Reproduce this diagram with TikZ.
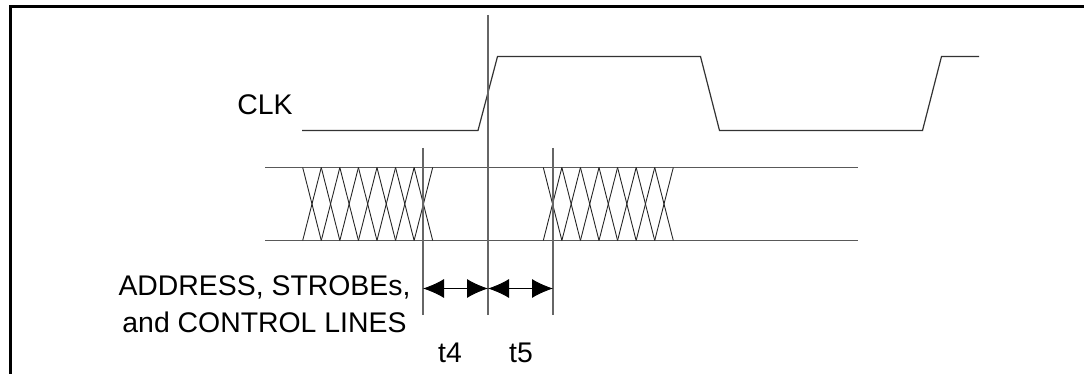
\documentclass[tikz,border=0pt]{standalone}
\usepackage{fontspec}
\setmainfont{Liberation Sans}
\usetikzlibrary{arrows.meta}

\begin{document}
\begin{tikzpicture}[x=1pt,y=-1pt,
  wave/.style={line width=1.2pt,draw=black!80},
  marker/.style={line width=1.1pt,draw=black!60},
  busline/.style={line width=1.3pt,draw=black!65},
  hatch/.style={line width=0.9pt,draw=black!85},
  timing/.style={line width=0.9pt,{Latex[length=21pt,width=19pt]}-{Latex[length=21pt,width=19pt]}},
  lbl/.style={font=\fontsize{28.4}{37}\selectfont,inner sep=0pt,anchor=base}]
  \useasboundingbox (0,0) rectangle (1084,374);
  \draw[line width=2.5pt] (10.5,374) -- (10.5,6.5) -- (1084,6.5);
  % clock
  \draw[wave] (302,130.5) -- (478,130.5) -- (497.5,56.5) -- (700.5,56.5) -- (719.5,130.5)
    -- (922.5,130.5) -- (941.5,56.5) -- (979,56.5);
  \node[lbl] (clk) at (265,115) {CLK};
  % bus
  \draw[busline] (265,167.5) -- (858,167.5);
  \draw[busline] (265,240.5) -- (858,240.5);
  \foreach \s in {302.7,543.3}
    \foreach \i in {0,...,6} {
      \draw[hatch] (\s+\i*18.57,167.5) -- (\s+\i*18.57+18.57,240.5);
      \draw[hatch] (\s+\i*18.57+18.57,167.5) -- (\s+\i*18.57,240.5);
    }
  % markers
  \coordinate (m4) at (423,288.5);
  \coordinate (m0) at (488,288.5);
  \coordinate (m5) at (553,288.5);
  \draw[marker] (423,148) -- (423,315);
  \draw[marker] (488,15) -- (488,315);
  \draw[marker] (553,148) -- (553,315);
  \draw[timing] (m4) -- (m0);
  \draw[timing] (m0) -- (m5);
  \node[lbl] (lines1) at (264.5,295) {ADDRESS, STROBEs,};
  \node[lbl] (lines2) at (264.5,332) {and CONTROL LINES};
  \node[lbl] (t4) at (450,362) {t4};
  \node[lbl] (t5) at (521,362) {t5};
\end{tikzpicture}
\end{document}
